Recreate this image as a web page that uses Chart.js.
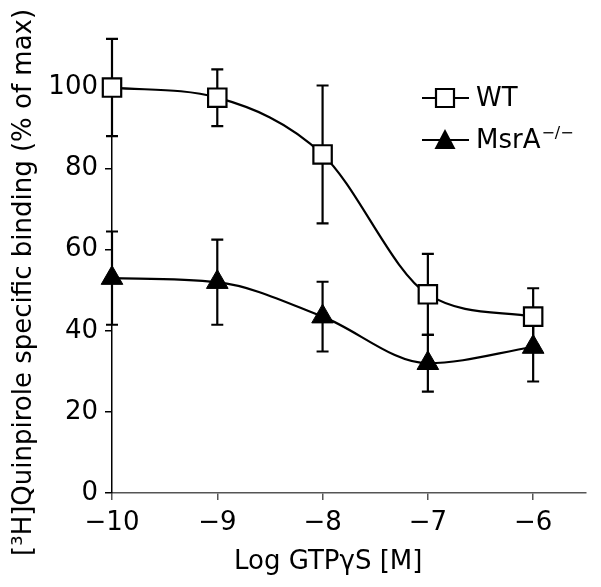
<!DOCTYPE html>
<html>
<head>
<meta charset="utf-8">
<script src="https://cdn.jsdelivr.net/npm/chart.js@4"></script>
<style>
  html, body { margin: 0; padding: 0; background: #fff; }
  #wrap { width: 601px; height: 587px; }
</style>
</head>
<body>
<div id="wrap"><canvas id="myChart" width="601" height="587"></canvas></div>
<script>
// values
const logDose = [-10, -9, -8, -7, -6];
const xTicks = [-10, -9, -8, -7, -6];
const yTicks = [0, 20, 40, 60, 80, 100];
const wtMean = [100, 97.5, 83.5, 49, 43.5];
const wtErr = [12, 7, 17, 10, 7];
const koMean = [53, 52, 43.5, 32, 36];
const koErr = [11.5, 10.5, 8.6, 7, 8.5];

const FONT = "'DejaVu Sans', 'Liberation Sans', Arial, sans-serif";

function toPoints(xs, ys) {
    return xs.map((x, i) => ({ x: x, y: ys[i] }));
}

// vertical error bars with caps, drawn under the markers
const errorBars = {
    id: 'errorBars',
    beforeDatasetsDraw(chart) {
        const { ctx, scales: { x, y } } = chart;
        ctx.save();
        ctx.strokeStyle = '#000';
        ctx.lineWidth = 2.2;
        chart.data.datasets.forEach(ds => {
            ds.data.forEach((p, i) => {
                const e = ds.errors[i];
                const px = x.getPixelForValue(p.x);
                const top = y.getPixelForValue(p.y + e);
                const bot = y.getPixelForValue(p.y - e);
                ctx.beginPath();
                ctx.moveTo(px, top); ctx.lineTo(px, bot);
                ctx.moveTo(px - 6, top); ctx.lineTo(px + 6, top);
                ctx.moveTo(px - 6, bot); ctx.lineTo(px + 6, bot);
                ctx.stroke();
            });
        });
        ctx.restore();
    }
};

// legend with line + marker, and superscript for the knockout
const legendBox = {
    id: 'legendBox',
    afterDraw(chart) {
        const ctx = chart.ctx;
        const rows = [
            { y: 98, label: 'WT', sup: '', style: 'rect' },
            { y: 140, label: 'MsrA', sup: '\u2212/\u2212', style: 'triangle' }
        ];
        ctx.save();
        rows.forEach(r => {
            ctx.strokeStyle = '#000';
            ctx.lineWidth = 2.2;
            ctx.beginPath();
            ctx.moveTo(422, r.y); ctx.lineTo(469, r.y);
            ctx.stroke();
            ctx.beginPath();
            if (r.style === 'rect') {
                ctx.rect(436, r.y - 9, 18, 18);
                ctx.fillStyle = '#fff';
                ctx.fill();
                ctx.stroke();
            } else {
                ctx.moveTo(445, r.y - 11);
                ctx.lineTo(455.5, r.y + 9);
                ctx.lineTo(434.5, r.y + 9);
                ctx.closePath();
                ctx.fillStyle = '#000';
                ctx.fill();
            }
            ctx.fillStyle = '#000';
            ctx.font = '26px ' + FONT;
            ctx.textBaseline = 'middle';
            ctx.textAlign = 'left';
            ctx.fillText(r.label, 476, r.y + 1);
            if (r.sup) {
                const w = ctx.measureText(r.label).width;
                ctx.font = '16px ' + FONT;
                ctx.fillText(r.sup, 476 + w + 1, r.y - 6);
            }
        });
        ctx.restore();
    }
};

const ctx1 = document.getElementById('myChart').getContext('2d');
new Chart(ctx1, {
    type: 'line',
    data: {
        datasets: [{
            label: 'WT',
            data: toPoints(logDose, wtMean),
            errors: wtErr,
            borderColor: '#000',
            borderWidth: 2.2,
            cubicInterpolationMode: 'monotone',
            pointStyle: 'rect',
            pointRadius: 13,
            pointBorderWidth: 2.2,
            pointBorderColor: '#000',
            pointBackgroundColor: '#fff',
            clip: false
        },
        {
            label: 'MsrA\u2212/\u2212',
            data: toPoints(logDose, koMean),
            errors: koErr,
            borderColor: '#000',
            borderWidth: 2.2,
            cubicInterpolationMode: 'monotone',
            pointStyle: 'triangle',
            pointRadius: 12.5,
            pointBorderWidth: 1,
            pointBorderColor: '#000',
            pointBackgroundColor: '#000',
            clip: false
        }]
    },
    options: {
        responsive: false,
        animation: false,
        events: [],
        layout: { padding: { top: 47, right: 9, left: 0, bottom: 0 } },
        plugins: {
            legend: { display: false },
            tooltip: { enabled: false }
        },
        scales: {
            x: {
                type: 'linear',
                min: -10,
                max: -5.5,
                afterBuildTicks: axis => { axis.ticks = xTicks.map(v => ({ value: v })); },
                afterFit: scale => { scale.height = 94; },
                ticks: {
                    color: '#000',
                    font: { family: FONT, size: 26 },
                    padding: 8,
                    callback: v => String(v).replace('-', '\u2212')
                },
                grid: { drawOnChartArea: false, tickLength: 7, color: '#555', lineWidth: 1.5 },
                border: { color: '#555', width: 1.5 },
                title: {
                    display: true,
                    text: 'Log GTP\u03b3S [M]\u00a0\u00a0\u00a0\u00a0\u00a0',
                    color: '#000',
                    font: { family: FONT, size: 26 },
                    padding: { top: 0, bottom: 9 }
                }
            },
            y: {
                min: 0,
                max: 110,
                afterBuildTicks: axis => { axis.ticks = yTicks.map(v => ({ value: v })); },
                afterFit: scale => { scale.width = 112; },
                ticks: {
                    color: '#000',
                    font: { family: FONT, size: 26 },
                    padding: 7
                },
                grid: { drawOnChartArea: false, tickLength: 7, color: '#000', lineWidth: 1.5 },
                border: { color: '#000', width: 1.5 },
                title: {
                    display: true,
                    text: '[\u00b3H]Quinpirole specific binding (% of max)\u00a0\u00a0\u00a0',
                    color: '#000',
                    font: { family: FONT, size: 26 },
                    padding: { top: 9, bottom: 0 }
                }
            }
        }
    },
    plugins: [errorBars, legendBox]
});
</script>
</body>
</html>
